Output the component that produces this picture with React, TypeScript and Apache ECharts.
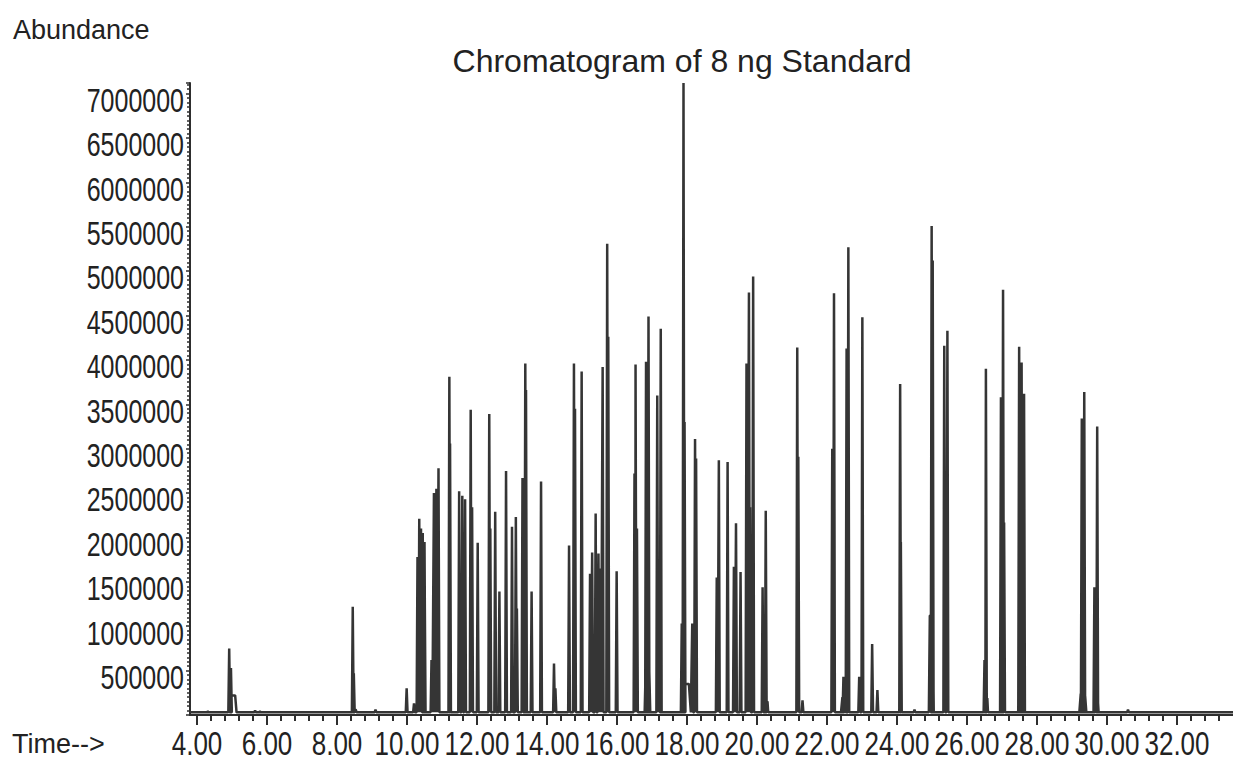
import React, { useEffect, useRef } from "react";
import * as echarts from "echarts";

const chartTitle = "Chromatogram of 8 ng Standard";
const yAxisTitle = "Abundance";
const xAxisTitle = "Time-->";

// Axis tick labels (minutes / abundance)
const xTickLabels = [4, 6, 8, 10, 12, 14, 16, 18, 20, 22, 24, 26, 28, 30, 32];
const yTickLabels = [500000, 1000000, 1500000, 2000000, 2500000, 3000000, 3500000, 4000000, 4500000, 5000000, 5500000, 6000000, 6500000, 7000000];

// Sharp peaks: retention time (min) and abundance at apex
const peakTimes = [
  4.31, 4.92, 4.97, 5.66, 5.8, 8.45, 8.48, 9.1, 9.99, 10.2,
  10.3, 10.35, 10.4, 10.45, 10.5, 10.7, 10.77, 10.84, 10.9, 11.21,
  11.23, 11.49, 11.58, 11.66, 11.82, 11.86, 12.02, 12.35, 12.38, 12.52,
  12.64, 12.83, 13.0, 13.11, 13.14, 13.3, 13.38, 13.4, 13.56, 13.83,
  14.2, 14.24, 14.63, 14.77, 14.8, 14.99, 15.23, 15.29, 15.39, 15.47,
  15.52, 15.59, 15.72, 15.75, 15.99, 16.5, 16.53, 16.57, 16.83, 16.9,
  17.15, 17.25, 17.85, 17.9, 17.93, 18.15, 18.23, 18.26, 18.85, 18.91,
  19.16, 19.34, 19.4, 19.53, 19.7, 19.77, 19.8, 19.89, 20.16, 20.25,
  21.15, 21.18, 21.3, 22.15, 22.2, 22.47, 22.56, 22.61, 22.92, 23.01,
  23.29, 23.44, 24.09, 24.11, 24.5, 24.99, 25.02, 25.35, 25.44, 26.5,
  26.54, 26.97, 27.03, 27.06, 27.49, 27.56, 27.63, 29.28, 29.35, 29.64,
  29.72, 30.6,
];
const peakHeights = [
  40000, 750000, 530000, 50000, 40000, 1220000, 470000, 60000, 300000, 130000,
  1780000, 2210000, 2100000, 2050000, 1950000, 620000, 2500000, 2550000, 2780000, 3810000,
  3060000, 2520000, 2470000, 2430000, 3440000, 2340000, 1940000, 3390000, 2100000, 2290000,
  1390000, 2750000, 2120000, 2230000, 1200000, 2670000, 3960000, 3660000, 1390000, 2630000,
  580000, 300000, 1910000, 3960000, 3450000, 3870000, 1590000, 1830000, 2270000, 1820000,
  1650000, 3920000, 5310000, 4260000, 1620000, 2720000, 3950000, 2100000, 3980000, 4490000,
  3600000, 4350000, 1030000, 7120000, 3300000, 1030000, 3110000, 2890000, 1550000, 2870000,
  2850000, 1670000, 2160000, 1610000, 3960000, 4760000, 2340000, 4940000, 1440000, 2300000,
  4140000, 2910000, 165000, 3000000, 4750000, 430000, 4130000, 5270000, 430000, 4480000,
  800000, 280000, 3730000, 1950000, 60000, 5510000, 5120000, 4160000, 4330000, 620000,
  3900000, 3580000, 4790000, 2170000, 4150000, 3970000, 3620000, 3340000, 3640000, 1440000,
  3250000, 60000,
];

// Broad low humps (outlined peak bases): time, height, half width (min)
const humpTimes = [5.03, 8.5, 10.48, 16.87, 17.22, 17.97, 20.27, 22.5, 24.98, 26.55, 27.0, 27.55, 29.31, 29.7];
const humpHeights = [220000, 60000, 1200000, 560000, 550000, 350000, 150000, 200000, 1120000, 190000, 1370000, 260000, 240000, 190000];
const humpHalfWidths = [0.1, 0.06, 0.05, 0.08, 0.05, 0.14, 0.05, 0.1, 0.07, 0.05, 0.05, 0.09, 0.1, 0.06];

const baselineLevel = 30000;
const timeMin = 3.8;
const timeMax = 33.6;
const abundanceMax = 7120000;

function buildTrace(): number[][] {
  const groups: { t: number; pts: number[][] }[] = [];
  peakTimes.forEach((t, i) => {
    groups.push({ t, pts: [[t - 0.025, baselineLevel], [t, peakHeights[i]], [t + 0.025, baselineLevel]] });
  });
  humpTimes.forEach((t, i) => {
    const hw = humpHalfWidths[i];
    const h = humpHeights[i];
    groups.push({ t, pts: [[t - hw, baselineLevel], [t - hw * 0.6, h], [t + hw * 0.6, h], [t + hw, baselineLevel]] });
  });
  groups.sort((a, b) => a.t - b.t);
  const data: number[][] = [[timeMin, baselineLevel]];
  groups.forEach((g) => g.pts.forEach((p) => data.push(p)));
  data.push([timeMax, baselineLevel]);
  return data;
}

function minorTickValues(): number[] {
  const out: number[] = [];
  for (let i = 0; i < xTickLabels.length + 1; i++) {
    const start = xTickLabels[0] - 2 + i * 2;
    for (let k = 1; k < 5; k++) {
      const v = +(start + k * 0.4).toFixed(2);
      if (v > timeMin && v < timeMax) out.push(v);
    }
  }
  return out;
}

const ink = "#2e2e2e";
const textInk = "#222";
const sans = "'Liberation Sans', Arial, sans-serif";

export default function App() {
  const ref = useRef<HTMLDivElement>(null);
  useEffect(() => {
    if (!ref.current) return;
    const chart = echarts.init(ref.current, null, { renderer: "svg" });
    chart.setOption({
      animation: false,
      backgroundColor: "#ffffff",
      grid: { left: 190, right: 0, top: 83, bottom: 48, containLabel: false },
      xAxis: [
        {
          type: "value",
          min: timeMin,
          max: timeMax,
          position: "bottom",
          axisLine: { show: true, onZero: false, lineStyle: { color: ink, width: 2 } },
          axisTick: { show: true, length: 10, customValues: xTickLabels, lineStyle: { color: ink, width: 2 } },
          axisLabel: { show: false },
          splitLine: { show: false },
        },
        {
          type: "value",
          min: timeMin,
          max: timeMax,
          position: "bottom",
          axisLine: { show: false, onZero: false },
          axisTick: { show: true, length: 6, customValues: minorTickValues(), lineStyle: { color: ink, width: 2 } },
          axisLabel: { show: false },
          splitLine: { show: false },
        },
      ],
      yAxis: {
        type: "value",
        min: 0,
        max: abundanceMax,
        interval: 500000,
        axisLine: { show: true, lineStyle: { color: ink, width: 2 } },
        axisTick: { show: true, length: 4, lineStyle: { color: ink, width: 1.5 } },
        minorTick: { show: true, splitNumber: 10, length: 3, lineStyle: { color: ink, width: 1.5 } },
        axisLabel: { show: false },
        splitLine: { show: false },
      },
      series: [
        {
          type: "line",
          xAxisIndex: 0,
          data: buildTrace(),
          showSymbol: false,
          symbol: "none",
          lineStyle: { color: "#353535", width: 2.5 },
          clip: true,
        },
      ],
    });

    // Tick labels placed through the chart's own scales (tall, narrow type)
    const axisX = chart.convertToPixel({ xAxisIndex: 0 }, timeMin) as number;
    const axisY = chart.convertToPixel({ yAxisIndex: 0 }, 0) as number;
    const labels: any[] = [];
    yTickLabels.forEach((v) => {
      const py = chart.convertToPixel({ yAxisIndex: 0 }, v) as number;
      labels.push({
        type: "text",
        x: axisX - 6,
        y: py + 7,
        scaleY: 1.32,
        style: { text: String(v), font: `25px ${sans}`, fill: textInk, textAlign: "right", textVerticalAlign: "middle" },
      });
    });
    xTickLabels.forEach((t) => {
      const px = chart.convertToPixel({ xAxisIndex: 0 }, t) as number;
      labels.push({
        type: "text",
        x: px,
        y: axisY + 28,
        scaleY: 1.3,
        style: { text: t.toFixed(2), font: `26px ${sans}`, fill: textInk, textAlign: "center", textVerticalAlign: "middle" },
      });
    });
    chart.setOption({
      graphic: [
        { type: "text", left: 13, top: 16, style: { text: yAxisTitle, font: `27px ${sans}`, fill: textInk } },
        { type: "text", left: 12, top: 730, style: { text: xAxisTitle, font: `27px ${sans}`, fill: textInk } },
        { type: "text", x: 682, y: 61, style: { text: chartTitle, font: `32px ${sans}`, fill: textInk, textAlign: "center", textVerticalAlign: "middle" } },
        ...labels,
      ],
    });
    return () => chart.dispose();
  }, []);
  return <div ref={ref} style={{ position: "fixed", left: 0, top: 0, width: 1233, height: 763, background: "#fff" }} />;
}
